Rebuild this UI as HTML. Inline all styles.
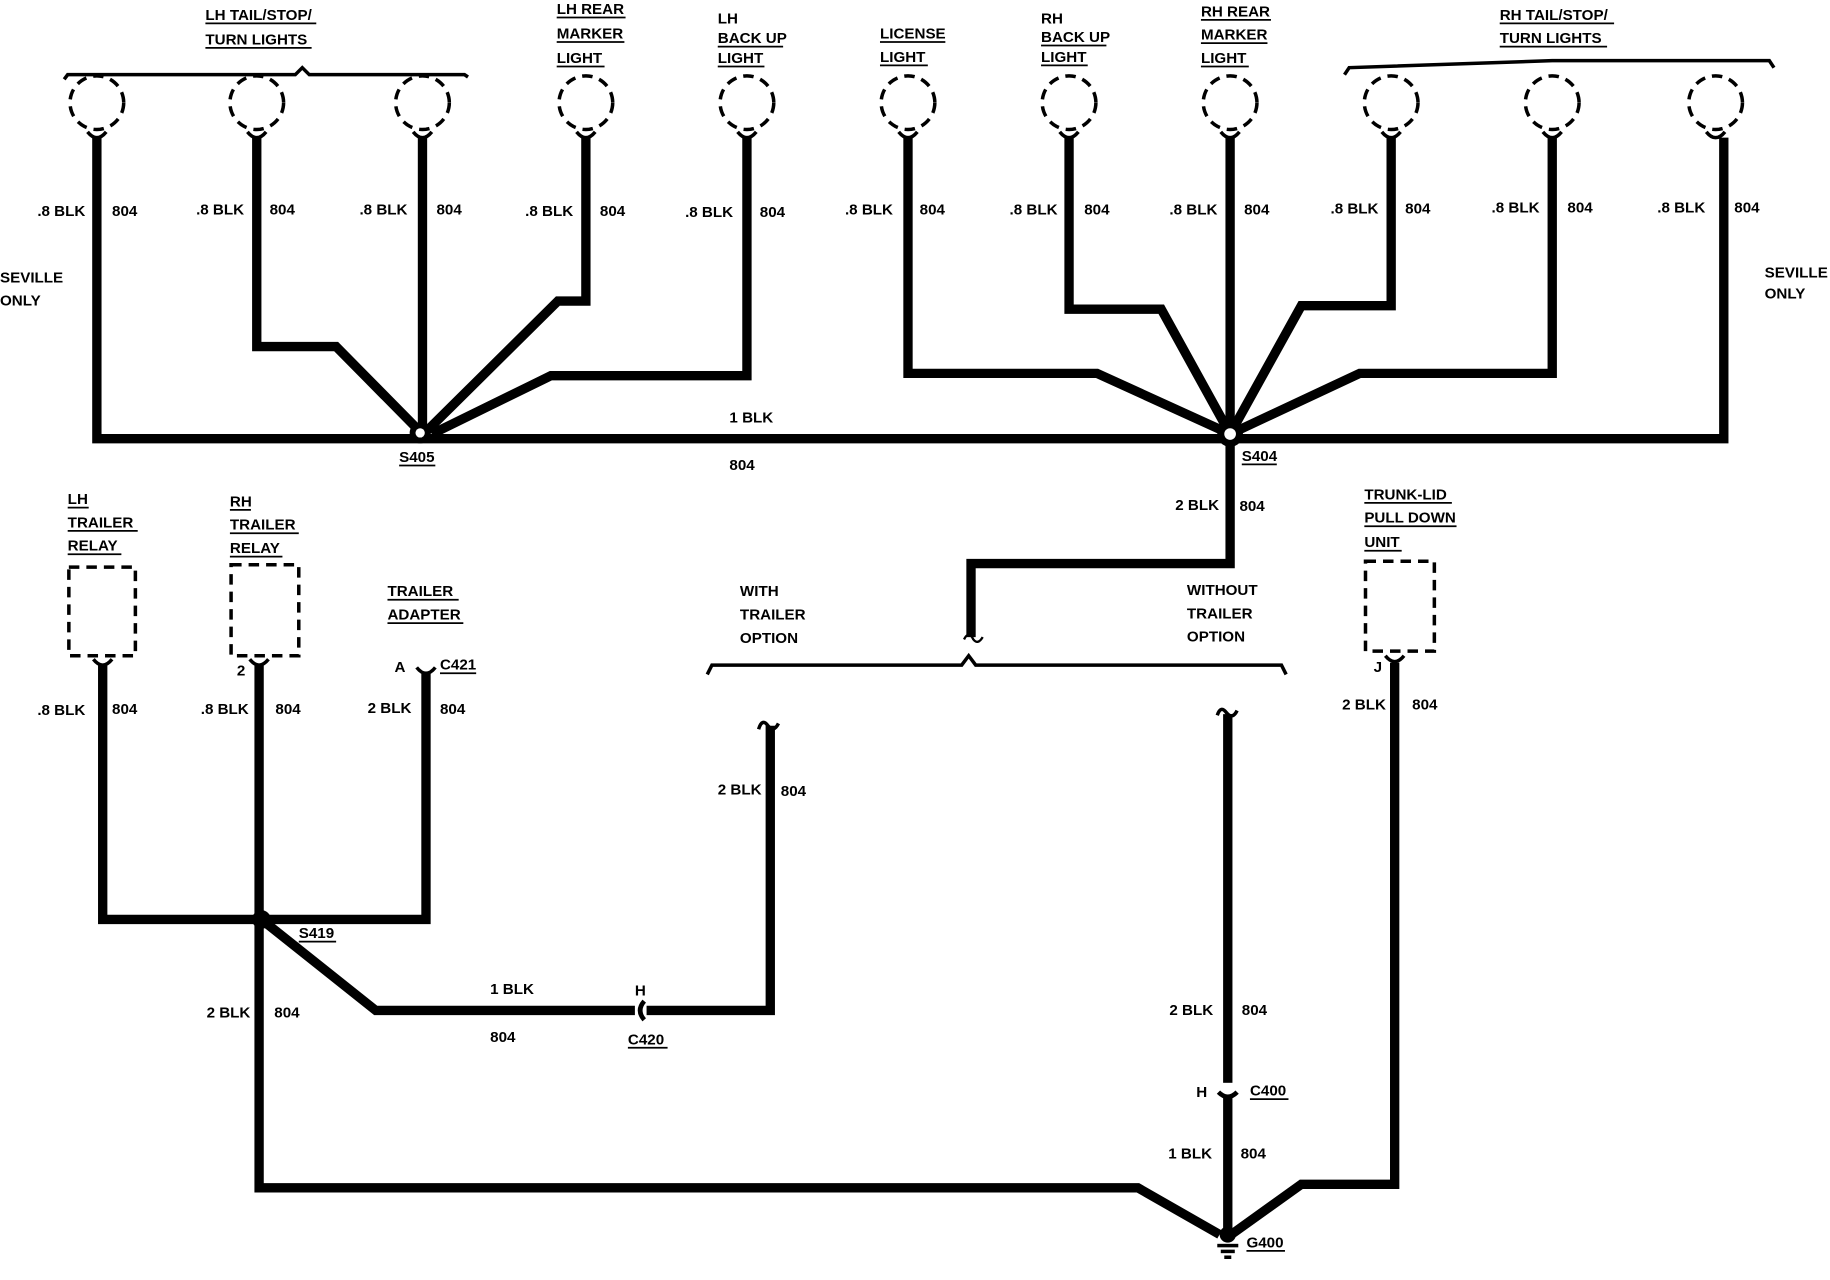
<!DOCTYPE html>
<html><head><meta charset="utf-8">
<style>
html,body{margin:0;padding:0;background:#fff;}
svg{display:block;}
text{font-family:"Liberation Sans",sans-serif;font-weight:bold;font-size:13px;fill:#000;}
</style></head>
<body>
<svg width="1830" height="1280" viewBox="0 0 1568 1097" preserveAspectRatio="none" xmlns="http://www.w3.org/2000/svg">
<rect width="1568" height="1097" fill="#fff"/>
<g fill="none" stroke="#000" stroke-width="3" stroke-dasharray="9,6">
<circle cx="83" cy="88" r="23"/><circle cx="220" cy="88" r="23"/><circle cx="362" cy="88" r="23"/>
<circle cx="502" cy="88" r="23"/><circle cx="640" cy="88" r="23"/><circle cx="778" cy="88" r="23"/>
<circle cx="916" cy="88" r="23"/><circle cx="1054" cy="88" r="23"/><circle cx="1192" cy="88" r="23"/>
<circle cx="1330" cy="88" r="23"/><circle cx="1470" cy="88" r="23"/>
<rect x="59" y="486" width="57" height="76"/><rect x="198" y="484" width="58" height="78"/>
<rect x="1170" y="481" width="59" height="77"/>
</g>
<g fill="none" stroke="#000" stroke-width="3">
<path d="M55,68 L58,64 L253,64 L259,58 L265,64 L398,64 L401,66"/>
<path d="M1152,64 L1156,58 L1330,52 L1516,52 L1520,58"/>
<path d="M606,578 L610,570 L824,570 L830,562 L836,570 L1098,570 L1102,578"/>
<path d="M826,548 Q830,540 834,548 Q838,553 842,546" stroke-width="2"/>
</g>
<g fill="none" stroke="#000" stroke-width="3">
<path d="M75,113 Q83,123 91,113"/><path d="M212,113 Q220,123 228,113"/><path d="M354,113 Q362,123 370,113"/>
<path d="M494,113 Q502,123 510,113"/><path d="M632,113 Q640,123 648,113"/><path d="M770,113 Q778,123 786,113"/>
<path d="M908,113 Q916,123 924,113"/><path d="M1046,113 Q1054,123 1062,113"/><path d="M1184,113 Q1192,123 1200,113"/>
<path d="M1322,113 Q1330,123 1338,113"/><path d="M1462,113 Q1470,123 1478,113"/>
<path d="M80,565 Q88,575 96,565"/><path d="M214,565 Q222,575 230,565"/><path d="M357,572 Q365,582 373,572"/>
<path d="M1187,562 Q1195,572 1203,562"/>
<path d="M650,625 Q653,615 658,622 Q663,628 667,620"/><path d="M1043,613 Q1046,604 1051,611 Q1056,617 1060,609"/>
</g>
<g fill="none" stroke="#000" stroke-width="8" stroke-linejoin="miter">
<path d="M83,118 V376 H1477 V118"/>
<path d="M220,118 V297 H288 L360,370"/>
<path d="M362,118 V370"/>
<path d="M502,118 V258 H478 L365,370"/>
<path d="M640,118 V322 H472 L370,372"/>
<path d="M778,118 V320 H940 L1054,372"/>
<path d="M916,118 V265 H995 L1054,372"/>
<path d="M1054,118 V372"/>
<path d="M1192,118 V262 H1115 L1054,372"/>
<path d="M1330,118 V320 H1165 L1054,372"/>
<path d="M1054,372 V483 H832 V546"/>
<path d="M88,570 V788 H365 V577"/>
<path d="M222,570 V1018 H975 L1045,1058"/>
<path d="M224,788 L322,866 H660 V622"/>
<path d="M1052,612 V1058"/>
<path d="M1195,568 V1015 H1115 L1055,1058"/>
</g>
<circle cx="360" cy="371" r="9" fill="#000"/><circle cx="360" cy="371" r="4" fill="#fff"/>
<circle cx="1054" cy="372" r="11" fill="#000"/><circle cx="1054" cy="372" r="5" fill="#fff"/>
<circle cx="224" cy="788" r="8" fill="#000"/>
<circle cx="1052" cy="1058" r="7" fill="#000"/>
<rect x="1043" y="1066" width="18" height="3" fill="#000"/><rect x="1046" y="1071" width="12" height="3" fill="#000"/><rect x="1049" y="1076" width="6" height="3" fill="#000"/>
<rect x="544" y="858" width="10" height="16" fill="#fff"/>
<rect x="1044" y="928" width="16" height="10" fill="#fff"/>
<path d="M552,858 Q545,866 552,874" fill="none" stroke="#000" stroke-width="4"/>
<path d="M1044,936 Q1052,944 1060,936" fill="none" stroke="#000" stroke-width="4"/>
<g>
<text x="176" y="17">LH TAIL/STOP/</text><text x="176" y="38">TURN LIGHTS</text>
<text x="477" y="12">LH REAR</text><text x="477" y="33">MARKER</text><text x="477" y="54">LIGHT</text>
<text x="615" y="20">LH</text><text x="615" y="37">BACK UP</text><text x="615" y="54">LIGHT</text>
<text x="754" y="33">LICENSE</text><text x="754" y="53">LIGHT</text>
<text x="892" y="20">RH</text><text x="892" y="36">BACK UP</text><text x="892" y="53">LIGHT</text>
<text x="1029" y="14">RH REAR</text><text x="1029" y="34">MARKER</text><text x="1029" y="54">LIGHT</text>
<text x="1285" y="17">RH TAIL/STOP/</text><text x="1285" y="37">TURN LIGHTS</text>
<text x="32" y="185">.8 BLK</text><text x="96" y="185">804</text>
<text x="168" y="184">.8 BLK</text><text x="231" y="184">804</text>
<text x="308" y="184">.8 BLK</text><text x="374" y="184">804</text>
<text x="450" y="185">.8 BLK</text><text x="514" y="185">804</text>
<text x="587" y="186">.8 BLK</text><text x="651" y="186">804</text>
<text x="724" y="184">.8 BLK</text><text x="788" y="184">804</text>
<text x="865" y="184">.8 BLK</text><text x="929" y="184">804</text>
<text x="1002" y="184">.8 BLK</text><text x="1066" y="184">804</text>
<text x="1140" y="183">.8 BLK</text><text x="1204" y="183">804</text>
<text x="1278" y="182">.8 BLK</text><text x="1343" y="182">804</text>
<text x="1420" y="182">.8 BLK</text><text x="1486" y="182">804</text>
<text x="0" y="242">SEVILLE</text><text x="0" y="262">ONLY</text>
<text x="1512" y="238">SEVILLE</text><text x="1512" y="256">ONLY</text>
<text x="625" y="362">1 BLK</text><text x="625" y="403">804</text>
<text x="342" y="396">S405</text><text x="1064" y="395">S404</text>
<text x="1007" y="437">2 BLK</text><text x="1062" y="438">804</text>
<text x="1169" y="428">TRUNK-LID</text><text x="1169" y="448">PULL DOWN</text><text x="1169" y="469">UNIT</text>
<text x="58" y="432">LH</text><text x="58" y="452">TRAILER</text><text x="58" y="472">RELAY</text>
<text x="197" y="434">RH</text><text x="197" y="454">TRAILER</text><text x="197" y="474">RELAY</text>
<text x="332" y="511">TRAILER</text><text x="332" y="531">ADAPTER</text>
<text x="634" y="511">WITH</text><text x="634" y="531">TRAILER</text><text x="634" y="551">OPTION</text>
<text x="1017" y="510">WITHOUT</text><text x="1017" y="530">TRAILER</text><text x="1017" y="550">OPTION</text>
<text x="338" y="576">A</text><text x="377" y="574">C421</text>
<text x="203" y="579">2</text><text x="1177" y="576">J</text>
<text x="32" y="613">.8 BLK</text><text x="96" y="612">804</text>
<text x="172" y="612">.8 BLK</text><text x="236" y="612">804</text>
<text x="315" y="611">2 BLK</text><text x="377" y="612">804</text>
<text x="1150" y="608">2 BLK</text><text x="1210" y="608">804</text>
<text x="615" y="681">2 BLK</text><text x="669" y="682">804</text>
<text x="256" y="804">S419</text>
<text x="177" y="872">2 BLK</text><text x="235" y="872">804</text>
<text x="420" y="852">1 BLK</text><text x="420" y="893">804</text>
<text x="544" y="853">H</text><text x="538" y="895">C420</text>
<text x="1002" y="870">2 BLK</text><text x="1064" y="870">804</text>
<text x="1025" y="940">H</text><text x="1071" y="939">C400</text>
<text x="1001" y="993">1 BLK</text><text x="1063" y="993">804</text>
<text x="1068" y="1069">G400</text>
</g>
<g stroke="#000" stroke-width="1.5">
<line x1="176" y1="20" x2="271" y2="20"/><line x1="176" y1="41" x2="267" y2="41"/>
<line x1="477" y1="15" x2="536" y2="15"/><line x1="477" y1="36" x2="535" y2="36"/><line x1="477" y1="57" x2="518" y2="57"/>
<line x1="615" y1="40" x2="671" y2="40"/><line x1="615" y1="57" x2="655" y2="57"/>
<line x1="754" y1="36" x2="810" y2="36"/><line x1="754" y1="56" x2="795" y2="56"/>
<line x1="892" y1="39" x2="948" y2="39"/><line x1="892" y1="56" x2="932" y2="56"/>
<line x1="1029" y1="17" x2="1089" y2="17"/><line x1="1029" y1="37" x2="1086" y2="37"/><line x1="1029" y1="57" x2="1070" y2="57"/>
<line x1="1285" y1="20" x2="1383" y2="20"/><line x1="1285" y1="40" x2="1377" y2="40"/>
<line x1="342" y1="399" x2="373" y2="399"/><line x1="1064" y1="398" x2="1094" y2="398"/>
<line x1="1169" y1="431" x2="1244" y2="431"/><line x1="1169" y1="451" x2="1248" y2="451"/><line x1="1169" y1="472" x2="1201" y2="472"/>
<line x1="58" y1="435" x2="76" y2="435"/><line x1="58" y1="455" x2="118" y2="455"/><line x1="58" y1="475" x2="104" y2="475"/>
<line x1="197" y1="437" x2="215" y2="437"/><line x1="197" y1="457" x2="256" y2="457"/><line x1="197" y1="477" x2="242" y2="477"/>
<line x1="332" y1="514" x2="393" y2="514"/><line x1="332" y1="534" x2="397" y2="534"/>
<line x1="377" y1="577" x2="408" y2="577"/><line x1="256" y1="807" x2="288" y2="807"/>
<line x1="538" y1="898" x2="572" y2="898"/><line x1="1071" y1="942" x2="1104" y2="942"/><line x1="1068" y1="1072" x2="1101" y2="1072"/>
</g>
</svg>
</body></html>
